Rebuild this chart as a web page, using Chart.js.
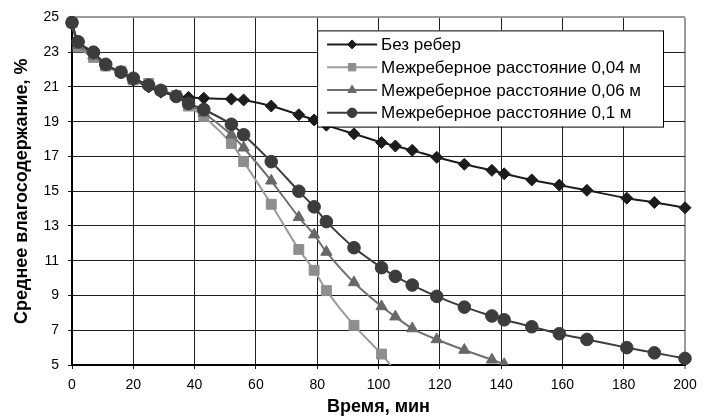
<!DOCTYPE html>
<html>
<head>
<meta charset="utf-8">
<script src="https://cdn.jsdelivr.net/npm/chart.js@4.4.0/dist/chart.umd.min.js"></script>
<style>
  html, body { margin: 0; padding: 0; background: #fff; }
  #wrap { width: 708px; height: 418px; }
</style>
</head>
<body>
<div id="wrap"><canvas id="vlagaChart" width="708" height="418"></canvas></div>
<script>
// время, мин (общая ось для всех серий)
const vremya = [0, 2, 7, 11, 16, 20, 25, 29, 34, 38, 43, 52, 56, 65, 74, 79, 83, 92, 101, 105.5, 111, 119, 128, 137, 141, 150, 159, 168, 181, 190, 200];

// среднее влагосодержание, %
const bezReber = [24.7, 23.6, 22.9, 22.3, 21.8, 21.4, 21.0, 20.7, 20.5, 20.4, 20.35, 20.3, 20.25, 19.9, 19.4, 19.1, 18.8, 18.3, 17.8, 17.6, 17.35, 16.95, 16.55, 16.2, 16.0, 15.65, 15.35, 15.05, 14.6, 14.35, 14.05];
const shag004 = [24.7, 23.3, 22.7, 22.2, 21.9, 21.4, 21.2, 20.8, 20.5, 19.9, 19.3, 17.75, 16.7, 14.25, 11.65, 10.45, 9.28, 7.28, 5.63, 4.65, null, null, null, null, null, null, null, null, null, null, null];
const shag006 = [24.7, 23.4, 22.8, 22.2, 21.8, 21.4, 21.1, 20.8, 20.5, 20.0, 19.5, 18.25, 17.5, 15.6, 13.5, 12.5, 11.5, 9.75, 8.37, 7.78, 7.1, 6.47, 5.86, 5.3, 5.04, null, null, null, null, null, null];
const shag01 = [24.7, 23.6, 23.0, 22.3, 21.85, 21.5, 21.1, 20.8, 20.45, 20.05, 19.7, 18.85, 18.25, 16.7, 15.0, 14.1, 13.25, 11.75, 10.6, 10.1, 9.6, 8.95, 8.33, 7.82, 7.6, 7.2, 6.8, 6.47, 6.0, 5.7, 5.38];

const xTicks = [0, 20, 40, 60, 80, 100, 120, 140, 160, 180, 200];
const yTicks = [5, 7, 9, 11, 13, 15, 17, 19, 21, 23, 25];

const FONT = '"Liberation Sans", Arial, sans-serif';

function toPoints(vals) {
    return vremya.map((t, i) => ({ x: t, y: vals[i] })).filter(p => p.y !== null);
}

// легенда в рамке внутри поля графика
const boxLegend = {
    id: 'boxLegend',
    afterDatasetsDraw(chart) {
        const ctx = chart.ctx;
        const area = chart.chartArea;
        const sets = chart.data.datasets;
        ctx.save();
        ctx.font = '17px ' + FONT;
        let maxW = 0;
        sets.forEach(ds => { maxW = Math.max(maxW, ctx.measureText(ds.label).width); });
        const rowH = 22.8;
        const w = 64 + maxW + 22;
        const h = rowH * sets.length + 5;
        const right = area.right - 22;
        const left = right - w;
        const top = area.top + 13;
        ctx.fillStyle = '#fff';
        ctx.fillRect(left, top, w, h);
        ctx.strokeStyle = '#000';
        ctx.lineWidth = 1;
        ctx.strokeRect(left + 0.5, top + 0.5, w, h);
        sets.forEach((ds, i) => {
            const y = top + 14 + i * rowH;
            ctx.strokeStyle = ds.borderColor;
            ctx.lineWidth = 2;
            ctx.beginPath();
            ctx.moveTo(left + 10, y);
            ctx.lineTo(left + 60, y);
            ctx.stroke();
            ctx.fillStyle = ds.pointBackgroundColor;
            ctx.strokeStyle = ds.pointBorderColor;
            ctx.lineWidth = 1;
            Chart.helpers.drawPoint(ctx, {
                pointStyle: ds.pointStyle,
                radius: ds.pointRadius * 0.75,
                borderWidth: 1
            }, left + 35, y);
            ctx.fillStyle = '#000';
            ctx.textBaseline = 'middle';
            ctx.fillText(ds.label, left + 64, y + 1);
        });
        ctx.restore();
    }
};

function serie(label, vals, color, fill, style, radius, order) {
    return {
        label: label,
        data: toPoints(vals),
        borderColor: color,
        backgroundColor: fill,
        pointBackgroundColor: fill,
        pointBorderColor: fill,
        pointStyle: style,
        pointRadius: radius,
        pointBorderWidth: 1,
        borderWidth: 2,
        tension: 0.25,
        order: order,
        clip: { left: 8, top: 8, right: 8, bottom: 0 }
    };
}

const ctx = document.getElementById('vlagaChart');
new Chart(ctx, {
    type: 'line',
    data: {
        datasets: [
            serie('Без ребер', bezReber, '#1c1c1c', '#1c1c1c', 'rectRot', 6, 2),
            serie('Межреберное расстояние 0,04 м', shag004, '#9c9c9c', '#8e8e8e', 'rect', 7, 3),
            serie('Межреберное расстояние 0,06 м', shag006, '#707070', '#686868', 'triangle', 6.5, 1),
            serie('Межреберное расстояние 0,1 м', shag01, '#3c3c3c', '#3c3c3c', 'circle', 6.3, 0)
        ]
    },
    options: {
        responsive: false,
        animation: false,
        layout: { padding: { top: 15, right: 23, left: 0, bottom: 0 } },
        plugins: {
            legend: { display: false },
            tooltip: { enabled: false }
        },
        scales: {
            x: {
                type: 'linear',
                min: 0,
                max: 200,
                afterBuildTicks: s => { s.ticks = xTicks.map(v => ({ value: v })); },
                afterFit: s => { s.height = 53; },
                grid: {
                    color: c => c.tick && c.tick.value === 200 ? '#9a9a9a' : '#1e1e1e',
                    lineWidth: c => c.tick && c.tick.value === 200 ? 2 : 1,
                    tickLength: 4
                },
                border: { color: '#000', width: 2 },
                ticks: {
                    color: '#000',
                    font: { family: FONT, size: 14 },
                    padding: 8,
                    maxRotation: 0
                },
                title: {
                    display: true,
                    text: 'Время, мин',
                    color: '#000',
                    font: { family: FONT, size: 18, weight: 'bold' },
                    padding: { top: 0, bottom: 0 }
                }
            },
            y: {
                min: 5,
                max: 25,
                afterBuildTicks: s => { s.ticks = yTicks.map(v => ({ value: v })); },
                afterFit: s => { s.width = 72; },
                grid: {
                    color: c => c.tick && c.tick.value === 25 ? '#9a9a9a' : '#1e1e1e',
                    lineWidth: c => c.tick && c.tick.value === 25 ? 2 : 1,
                    tickLength: 4
                },
                border: { color: '#000', width: 2 },
                ticks: {
                    color: '#000',
                    font: { family: FONT, size: 14 },
                    padding: 9
                },
                title: {
                    display: true,
                    text: 'Среднее влагосодержание, %',
                    color: '#000',
                    font: { family: FONT, size: 18, weight: 'bold' },
                    padding: { top: 11, bottom: 0 }
                }
            }
        }
    },
    plugins: [boxLegend]
});
</script>
</body>
</html>
